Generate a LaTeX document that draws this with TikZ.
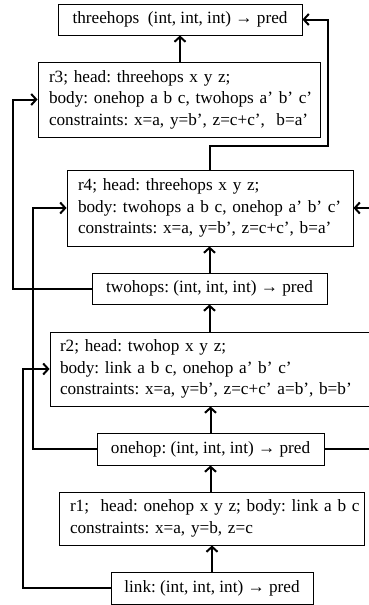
\documentclass[tikz,border=0pt]{standalone}
\usepackage{fontspec}
\setmainfont{Liberation Serif}
\usetikzlibrary{arrows.meta}
\begin{document}
\frenchspacing
\begin{tikzpicture}[x=1pt,y=-1pt,
  box/.style={draw,line width=0.9pt,inner sep=0pt,font=\fontsize{17.2}{21.5}\selectfont\frenchspacing},
  rulebox/.style={box,align=left,inner xsep=11pt},
  conn/.style={line width=2pt},
  arr/.style={conn,-{Straight Barb[length=5pt,width=11pt]}}]
\useasboundingbox (0,0) rectangle (369,605);
\clip (0,0) rectangle (369,605);
\node[box,minimum width=244pt,minimum height=31pt] (th) at (180,19.5) {threehops\ \ (int, int, int) → pred};
\node[rulebox,minimum width=282pt,minimum height=75pt,text width=260pt] (r3) at (179,99.5) {\mbox{r3; head: threehops x y z;}\\\mbox{body: onehop a b c, twohops a’ b’ c’}\\\mbox{constraints: x=a, y=b’, z=c+c’,\ \ b=a’}};
\node[rulebox,minimum width=286pt,minimum height=76pt,text width=264pt] (r4) at (210,208) {\mbox{r4; head: threehops x y z;}\\\mbox{body: twohops a b c, onehop a’ b’ c’}\\\mbox{constraints: x=a, y=b’, z=c+c’, b=a’}};
\node[box,minimum width=235pt,minimum height=31pt] (tw) at (209.5,288.5) {twohops: (int, int, int) → pred};
\node[rulebox,inner xsep=10pt,minimum width=326pt,minimum height=74pt,text width=306pt] (r2) at (213,369) {\mbox{r2; head: twohop x y z;}\\\mbox{body: link a b c, onehop a’ b’ c’}\\\mbox{constraints: x=a, y=b’, z=c+c’ a=b’, b=b’}};
\node[box,minimum width=227pt,minimum height=32pt] (oh) at (210.5,449) {onehop: (int, int, int) → pred};
\node[rulebox,minimum width=305pt,minimum height=53pt,text width=283pt] (r1) at (211.5,518.5) {\mbox{r1;\ \ head: onehop x y z; body: link a b c}\\\mbox{constraints: x=a, y=b, z=c}};
\node[box,minimum width=202pt,minimum height=32pt] (lk) at (212,588) {link: (int, int, int) → pred};
\coordinate (L1) at (13,0);
\coordinate (L2) at (33,0);
\coordinate (L3) at (23,0);
\coordinate (R1) at (328,146);
\coordinate (R2) at (380,449);
\coordinate (R3) at (380,208);
% vertical arrows
\draw[arr] (r3.north -| th.south) -- (th.south);
\draw[arr] (tw.north) -- (tw.north |- r4.south);
\draw[arr] (tw.south |- r2.north) -- (tw.south);
\draw[arr] (oh.north) -- (oh.north |- r2.south);
\draw[arr] (oh.south |- r1.north) -- (oh.south);
\draw[arr] (lk.north) -- (lk.north |- r1.south);
% loops
\draw[arr] (tw.west) -- (tw.west -| L1) |- (r3.west);
\draw[arr] (oh.west) -- (oh.west -| L2) |- (r4.west);
\draw[arr] (lk.west) -- (lk.west -| L3) |- (r2.west);
\draw[arr] (r4.north) |- (R1) |- (th.east);
\draw[conn] (oh.east) -- (R2);
\draw[arr] (R3) -- (r4.east);
\end{tikzpicture}
\end{document}
